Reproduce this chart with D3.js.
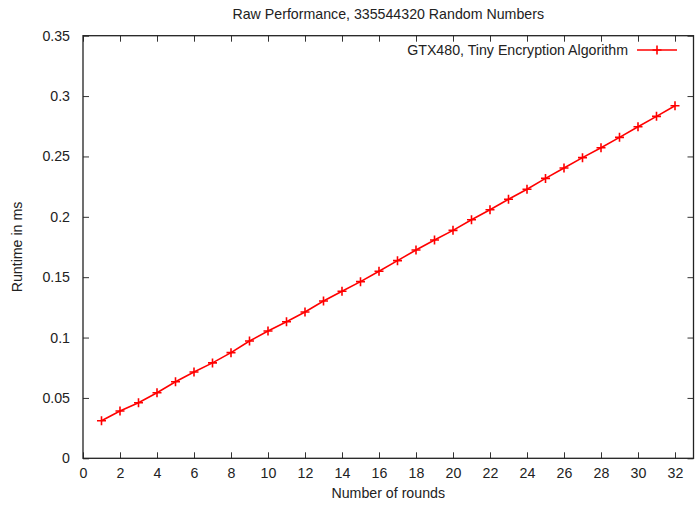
<!DOCTYPE html>
<html>
<head>
<meta charset="utf-8">
<script src="https://cdn.jsdelivr.net/npm/d3@7"></script>
<style>
  body { margin: 0; background: #fff; }
  text { font-family: "Liberation Sans", Arial, sans-serif; fill: #222; }
</style>
</head>
<body>
<div id="chart"></div>
<script>
// rounds and measured runtime (ms)
const rounds = d3.range(1, 33)
const runtime = [0.0311, 0.0392, 0.0460, 0.0543, 0.0634, 0.0715, 0.0790, 0.0875,
  0.0971, 0.1054, 0.1131, 0.1212, 0.1303, 0.1383, 0.1463, 0.1549,
  0.1637, 0.1725, 0.1808, 0.1888, 0.1976, 0.2059, 0.2145, 0.2228,
  0.2318, 0.2404, 0.2490, 0.2572, 0.2658, 0.2746, 0.2832, 0.2920]
const xTicks = d3.range(0, 33, 2)
const yTicks = [0, 0.05, 0.1, 0.15, 0.2, 0.25, 0.3, 0.35]
const seriesName = 'GTX480, Tiny Encryption Algorithm'

const W = 696, H = 505
const pLeft = 83, pRight = 693.5, pTop = 35.7, pBottom = 458.3
const tickLen = 6
const fs = 14.2

let svg = d3.select('#chart').append('svg')
  .attr('width', W).attr('height', H)
  .attr('xmlns', 'http://www.w3.org/2000/svg')

let x = d3.scaleLinear().domain([0, 33]).range([pLeft, pRight])
let y = d3.scaleLinear().domain([0, 0.35]).range([pBottom, pTop])

// gnuplot-like ticks, inward, mirrored on all sides
svg.append('g')
  .attr('transform', `translate(0,${pBottom})`)
  .call(d3.axisBottom(x).tickValues(xTicks).tickSize(-tickLen).tickPadding(10))
svg.append('g')
  .attr('transform', `translate(0,${pTop})`)
  .call(d3.axisTop(x).tickValues(xTicks).tickSize(-tickLen).tickFormat(''))
svg.append('g')
  .attr('transform', `translate(${pLeft},0)`)
  .call(d3.axisLeft(y).tickValues(yTicks).tickSize(-tickLen).tickPadding(13).tickFormat(d3.format('')))
svg.append('g')
  .attr('transform', `translate(${pRight},0)`)
  .call(d3.axisRight(y).tickValues(yTicks).tickSize(-tickLen).tickFormat(''))

svg.selectAll('.domain').remove()
svg.selectAll('.tick line').attr('stroke', '#333').attr('stroke-width', 1)
svg.selectAll('.tick text')
  .attr('font-size', fs)
  .attr('font-family', '"Liberation Sans", Arial, sans-serif')
  .attr('fill', '#222')

svg.append('rect')
  .attr('x', pLeft).attr('y', pTop)
  .attr('width', pRight - pLeft).attr('height', pBottom - pTop)
  .attr('fill', 'none').attr('stroke', '#222').attr('stroke-width', 1.3)

// title and axis labels
svg.append('text')
  .attr('x', (pLeft + pRight) / 2).attr('y', 19)
  .attr('text-anchor', 'middle').attr('font-size', fs)
  .text('Raw Performance, 335544320 Random Numbers')
svg.append('text')
  .attr('x', (pLeft + pRight) / 2).attr('y', 498)
  .attr('text-anchor', 'middle').attr('font-size', fs)
  .text('Number of rounds')
svg.append('text')
  .attr('transform', `translate(22,${(pTop + pBottom) / 2}) rotate(-90)`)
  .attr('text-anchor', 'middle').attr('font-size', fs)
  .text('Runtime in ms')

const red = '#ff0000'
function plus(sel) {
  sel.append('path')
    .attr('d', 'M -4.5 0 H 4.5 M 0 -4.5 V 4.5')
    .attr('stroke', red).attr('stroke-width', 1.6)
}

let line = d3.line().x((d, i) => x(rounds[i])).y(d => y(d))
svg.append('path')
  .datum(runtime)
  .attr('d', line)
  .attr('fill', 'none').attr('stroke', red).attr('stroke-width', 1.6)

svg.selectAll('.pt')
  .data(runtime)
  .join('g')
  .attr('class', 'pt')
  .attr('transform', (d, i) => `translate(${x(rounds[i])},${y(d)})`)
  .call(plus)

// legend
let lg = svg.append('g').attr('transform', 'translate(0,50)')
lg.append('text')
  .attr('x', 628).attr('y', 5)
  .attr('text-anchor', 'end').attr('font-size', fs)
  .text(seriesName)
lg.append('line')
  .attr('x1', 637).attr('x2', 677).attr('y1', 0).attr('y2', 0)
  .attr('stroke', red).attr('stroke-width', 1.6)
lg.append('g').attr('transform', 'translate(657,0)').call(plus)
</script>
</body>
</html>
